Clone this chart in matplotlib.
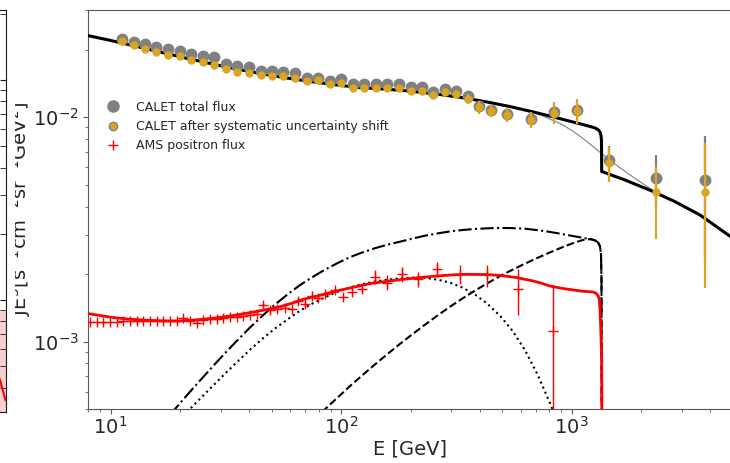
import matplotlib
matplotlib.use('Agg')
import matplotlib.pyplot as plt
from matplotlib.lines import Line2D
from matplotlib.transforms import Bbox, TransformedBbox
from matplotlib.ticker import NullFormatter

# ---------------- data ----------------
calet_E = [11.2, 12.6, 14.1, 15.8, 17.8, 20.0, 22.4, 25.1, 28.2, 31.6, 35.5, 39.8, 44.7,
           50.1, 56.2, 63.1, 70.8, 79.4, 89.1, 100, 112, 126, 141, 158, 178, 200, 224,
           251, 282, 316, 355, 398, 447, 526, 666, 838, 1058, 1456, 2321, 3798]
calet_total = [0.02228, 0.02154, 0.02117, 0.02047, 0.02012, 0.01977, 0.01917, 0.01879,
               0.01848, 0.01730, 0.01690, 0.01668, 0.01611, 0.01611, 0.01590, 0.01569,
               0.01500, 0.01491, 0.01450, 0.01476, 0.01406, 0.01402, 0.01402, 0.01402,
               0.01409, 0.01359, 0.01356, 0.01300, 0.01338, 0.01305, 0.01240, 0.01122,
               0.01077, 0.01031, 0.00980, 0.01059, 0.01077, 0.00646, 0.00536, 0.00523]
calet_total_err = [0.0002, 0.0002, 0.0002, 0.0002, 0.0002, 0.0002, 0.0002, 0.0002, 0.0002,
                   0.0002, 0.0002, 0.0002, 0.0002, 0.0002, 0.0002, 0.0002, 0.0002, 0.0002,
                   0.0002, 0.0002, 0.0002, 0.0002, 0.0002, 0.0002, 0.0002, 0.0002, 0.0002,
                   0.0003, 0.0003, 0.0003, 0.0003, 0.0003, 0.0003, 0.0005, 0.0006, 0.0007,
                   0.0008, 0.0010, 0.0014, 0.0030]
calet_shift = [0.02183, 0.02089, 0.02018, 0.01945, 0.01892, 0.01867, 0.01803, 0.01767,
               0.01713, 0.01634, 0.01594, 0.01578, 0.01542, 0.01526, 0.01518, 0.01500,
               0.01450, 0.01460, 0.01402, 0.01416, 0.01354, 0.01354, 0.01354, 0.01346,
               0.01350, 0.01309, 0.01309, 0.01260, 0.01290, 0.01265, 0.01206, 0.01108,
               0.01067, 0.01024, 0.00973, 0.01048, 0.01070, 0.00625, 0.00462, 0.00464]
calet_shift_err_lo = [0.0004, 0.0004, 0.0004, 0.0004, 0.0004, 0.0004, 0.0004, 0.0004, 0.0004,
                      0.0004, 0.0004, 0.0004, 0.0004, 0.0004, 0.0004, 0.0004, 0.0004, 0.0004,
                      0.0004, 0.0004, 0.0004, 0.0004, 0.0004, 0.0004, 0.0004, 0.0004, 0.0004,
                      0.0005, 0.0005, 0.0005, 0.0006, 0.0007, 0.0007, 0.0007, 0.0008, 0.0012,
                      0.00135, 0.0011, 0.00175, 0.0029]
calet_shift_err_hi = [0.0004, 0.0004, 0.0004, 0.0004, 0.0004, 0.0004, 0.0004, 0.0004, 0.0004,
                      0.0004, 0.0004, 0.0004, 0.0004, 0.0004, 0.0004, 0.0004, 0.0004, 0.0004,
                      0.0004, 0.0004, 0.0004, 0.0004, 0.0004, 0.0004, 0.0004, 0.0004, 0.0004,
                      0.0005, 0.0005, 0.0005, 0.0006, 0.0007, 0.0007, 0.0007, 0.0008, 0.0012,
                      0.00135, 0.0011, 0.0014, 0.0030]

ams_E = [8.13, 8.70, 9.29, 9.93, 10.62, 11.34, 12.12, 12.97, 13.85, 14.81, 15.83, 16.91,
         18.08, 19.33, 20.65, 22.08, 23.61, 25.22, 26.97, 28.84, 30.80, 32.93, 35.20, 37.60,
         40.20, 43.00, 45.92, 49.11, 52.67, 57.04, 60.99, 65.15, 69.66, 74.47, 79.54, 85.05,
         93.99, 102.1, 111.1, 122.7, 140.2, 157.6, 183.0, 216.0, 259.7, 327.6, 427.9, 586.7,
         832.4]
ams_flux = [1.221e-3, 1.221e-3, 1.221e-3, 1.227e-3, 1.227e-3, 1.233e-3, 1.233e-3, 1.240e-3,
            1.240e-3, 1.240e-3, 1.233e-3, 1.233e-3, 1.233e-3, 1.233e-3, 1.278e-3, 1.233e-3,
            1.215e-3, 1.246e-3, 1.259e-3, 1.265e-3, 1.272e-3, 1.285e-3, 1.292e-3, 1.298e-3,
            1.318e-3, 1.332e-3, 1.453e-3, 1.380e-3, 1.394e-3, 1.419e-3, 1.394e-3, 1.518e-3,
            1.478e-3, 1.598e-3, 1.572e-3, 1.626e-3, 1.694e-3, 1.582e-3, 1.671e-3, 1.711e-3,
            1.941e-3, 1.833e-3, 1.995e-3, 1.896e-3, 2.100e-3, 2.005e-3, 1.995e-3, 1.711e-3,
            1.117e-3]
ams_err_lo = [2e-5, 2e-5, 2e-5, 2e-5, 2e-5, 2e-5, 2e-5, 2e-5, 2e-5, 2e-5, 2e-5, 2e-5, 2e-5,
              2e-5, 2e-5, 2e-5, 2e-5, 2e-5, 2e-5, 2e-5, 2e-5, 2e-5, 2e-5, 2e-5, 2e-5, 2e-5,
              4e-5, 4e-5, 4e-5, 4e-5, 4e-5, 4e-5, 4e-5, 4e-5, 4e-5, 4e-5, 4e-5, 4e-5, 4e-5,
              4e-5, 1.4e-4, 1.4e-4, 1.5e-4, 1.5e-4, 1.6e-4, 2.0e-4, 2.4e-4, 3.9e-4, 1.11e-3]
ams_err_hi = [2e-5, 2e-5, 2e-5, 2e-5, 2e-5, 2e-5, 2e-5, 2e-5, 2e-5, 2e-5, 2e-5, 2e-5, 2e-5,
              2e-5, 2e-5, 2e-5, 2e-5, 2e-5, 2e-5, 2e-5, 2e-5, 2e-5, 2e-5, 2e-5, 2e-5, 2e-5,
              4e-5, 4e-5, 4e-5, 4e-5, 4e-5, 4e-5, 4e-5, 4e-5, 4e-5, 4e-5, 4e-5, 4e-5, 4e-5,
              4e-5, 1.4e-4, 1.4e-4, 1.5e-4, 1.5e-4, 1.6e-4, 2.0e-4, 2.0e-4, 3.9e-4, 6.8e-4]

# model curves
total_E = [8.0, 9.93, 12.75, 16.36, 21.00, 26.97, 34.62, 44.44, 57.04, 73.22, 93.99, 120.6,
           154.9, 198.8, 255.3, 327.6, 420.7, 540.0, 693.3, 889.7, 1142.2, 1237.3, 1274.8,
           1307.1, 1326.8, 1340.1, 1346.8, 1349.5, 1702.8, 2186.6, 2807.3, 3603.9, 4862.6,
           5647]
total_flux = [2.3056e-2, 2.1984e-2, 2.0741e-2, 1.9509e-2, 1.8365e-2, 1.7344e-2, 1.6429e-2,
              1.5656e-2, 1.4982e-2, 1.4425e-2, 1.3945e-2, 1.3537e-2, 1.3332e-2, 1.3062e-2,
              1.2706e-2, 1.2259e-2, 1.1731e-2, 1.1146e-2, 1.0503e-2, 9.848e-3, 9.214e-3,
              9.010e-3, 8.909e-3, 8.764e-3, 8.577e-3, 8.301e-3, 7.844e-3, 5.730e-3,
              5.248e-3, 4.727e-3, 4.204e-3, 3.667e-3, 2.949e-3, 2.627e-3]

smooth_E = [8.0, 9.93, 12.75, 16.36, 21.00, 26.97, 34.62, 44.44, 57.04, 73.22, 93.99, 120.6,
            154.9, 198.8, 255.3, 327.6, 420.7, 540.0, 693.3, 779.0, 889.7, 1016.1, 1161.8,
            1326.8, 1456.1, 1620.3, 1850.9, 2115.6, 2321.6, 2807.3, 3603.9, 4862.6, 5647]
smooth_flux = [2.3056e-2, 2.1984e-2, 2.0741e-2, 1.9509e-2, 1.8365e-2, 1.7344e-2, 1.6429e-2,
               1.5656e-2, 1.4982e-2, 1.4425e-2, 1.3945e-2, 1.3537e-2, 1.3332e-2, 1.3062e-2,
               1.2706e-2, 1.2259e-2, 1.1731e-2, 1.1146e-2, 1.0503e-2, 9.939e-3, 9.385e-3,
               8.647e-3, 7.804e-3, 6.977e-3, 6.459e-3, 5.951e-3, 5.401e-3, 4.926e-3,
               4.623e-3, 4.204e-3, 3.667e-3, 2.949e-3, 2.627e-3]

dashdot_E = [18.08, 19.01, 21.53, 24.40, 27.65, 31.33, 35.49, 40.22, 45.57, 51.63, 58.49,
             66.27, 75.08, 85.07, 96.37, 109.2, 123.7, 140.2, 158.8, 179.9, 203.8, 230.9,
             261.7, 296.5, 335.9, 380.6, 431.2, 488.6, 553.6, 627.2, 710.6, 805.1, 912.2,
             1033.5, 1142.2, 1212.7, 1262.1, 1300.5, 1326.8, 1340.1, 1346.8, 1349.5]
dashdot_flux = [4.727e-4, 5.012e-4, 5.808e-4, 6.709e-4, 7.733e-4, 8.890e-4, 1.0155e-3,
                1.1564e-3, 1.3050e-3, 1.4635e-3, 1.6230e-3, 1.7865e-3, 1.9393e-3, 2.0939e-3,
                2.2376e-3, 2.3789e-3, 2.4988e-3, 2.6085e-3, 2.7040e-3, 2.7882e-3, 2.8780e-3,
                2.9648e-3, 3.0354e-3, 3.0981e-3, 3.1429e-3, 3.1785e-3, 3.1981e-3, 3.2112e-3,
                3.2046e-3, 3.1850e-3, 3.1397e-3, 3.0823e-3, 3.0137e-3, 2.9437e-3, 2.8900e-3,
                2.8606e-3, 2.8257e-3, 2.7683e-3, 2.6573e-3, 2.4484e-3, 1.8957e-3, 4.523e-4]

dashed_E = [82.5, 95.9, 109.2, 123.7, 140.2, 158.8, 179.9, 203.8, 230.9, 261.7, 296.5, 335.9,
            380.6, 431.2, 488.6, 553.6, 627.2, 710.6, 805.1, 912.2, 1033.5, 1142.2, 1212.7,
            1262.1, 1300.5, 1326.8, 1340.1, 1346.8, 1349.5]
dashed_flux = [4.860e-4, 5.609e-4, 6.342e-4, 7.097e-4, 7.926e-4, 8.810e-4, 9.777e-4,
               1.0798e-3, 1.1902e-3, 1.3077e-3, 1.4309e-3, 1.5576e-3, 1.6890e-3, 1.8215e-3,
               1.9588e-3, 2.0917e-3, 2.2262e-3, 2.3619e-3, 2.4988e-3, 2.6356e-3, 2.7683e-3,
               2.8546e-3, 2.8606e-3, 2.8257e-3, 2.7683e-3, 2.6573e-3, 2.4484e-3, 1.8957e-3,
               4.523e-4]

dotted_E = [21.43, 24.40, 27.65, 31.33, 35.49, 40.22, 45.57, 51.63, 58.49, 66.27, 75.08,
            85.07, 96.37, 109.2, 123.7, 140.2, 158.8, 179.9, 203.8, 230.9, 261.7, 296.5,
            335.9, 380.6, 431.2, 488.6, 553.6, 627.2, 710.6, 805.1, 837.9]
dotted_flux = [4.860e-4, 5.569e-4, 6.335e-4, 7.200e-4, 8.155e-4, 9.204e-4, 1.0312e-3,
               1.1446e-3, 1.2563e-3, 1.3735e-3, 1.4800e-3, 1.5768e-3, 1.6681e-3, 1.7414e-3,
               1.8049e-3, 1.8535e-3, 1.8899e-3, 1.9152e-3, 1.9290e-3, 1.9251e-3, 1.8899e-3,
               1.8328e-3, 1.7414e-3, 1.6230e-3, 1.4739e-3, 1.3050e-3, 1.1191e-3, 9.177e-4,
               7.149e-4, 5.329e-4, 4.811e-4]

red_E = [7.995, 8.987, 10.26, 12.13, 14.33, 16.86, 19.98, 23.61, 27.87, 32.93, 38.9, 45.80,
         54.26, 60.99, 68.49, 80.92, 95.6, 112.5, 133.3, 157.6, 185.9, 219.7, 259.7, 301.6,
         350.4, 413.6, 488.6, 577.3, 681.5, 741.3, 805.1, 904.9, 1016, 1123, 1241, 1274.8,
         1304.4, 1317.5, 1326.8, 1337.4, 1349.5, 1353.5]
red_flux = [1.3345e-3, 1.3077e-3, 1.2812e-3, 1.2589e-3, 1.2461e-3, 1.2385e-3, 1.2372e-3,
            1.2512e-3, 1.2720e-3, 1.3010e-3, 1.3386e-3, 1.3804e-3, 1.4309e-3, 1.4830e-3,
            1.5447e-3, 1.6092e-3, 1.6821e-3, 1.7467e-3, 1.8142e-3, 1.8573e-3, 1.8957e-3,
            1.9310e-3, 1.9608e-3, 1.9830e-3, 1.9953e-3, 1.9912e-3, 1.9750e-3, 1.9290e-3,
            1.8631e-3, 1.8197e-3, 1.7701e-3, 1.7289e-3, 1.6991e-3, 1.6766e-3, 1.6646e-3,
            1.6426e-3, 1.5977e-3, 1.5447e-3, 1.3945e-3, 1.1365e-3, 8.356e-4, 4.523e-4]

legend_labels = ['CALET total flux', 'CALET after systematic uncertainty shift',
                 'AMS positron flux']

# neighbouring (cropped) panel on the far left
nb_fill_x = [0.90, 1.0]
nb_fill_lo = [0.31, 0.31]
nb_fill_hi = [0.90, 0.90]
nb_line_x = [0.95, 0.982, 1.0]
nb_line_y = [0.56, 0.433, 0.351]

# ---------------- figure ----------------
W, H = 730, 463
fig = plt.figure(figsize=(W / 100, H / 100), dpi=100)

spine_col = '0.35'
text_col = '0.15'

# cropped neighbour panel
nb = fig.add_axes([-300 / W, 1 - 412 / H, 305.5 / W, 402 / H])
nb.set_yscale('log')
nb.set_ylim(0.31, 20.8)
nb.set_xlim(0, 1)
nb.fill_between(nb_fill_x, nb_fill_lo, nb_fill_hi, color='#f6cfcf', lw=0)
nb.plot(nb_line_x, nb_line_y, color='red', lw=1.5)
nb.yaxis.tick_right()
nb.tick_params(axis='y', which='both', direction='in', length=4, labelright=False,
               color='0.1')
nb.tick_params(axis='x', which='both', bottom=False, labelbottom=False)
for s in nb.spines.values():
    s.set_color('0.1')

# main panel
ax = fig.add_axes([88.3 / W, 1 - 409.3 / H, (732 - 88.3) / W, (409.3 - 10) / H])
ax.set_xscale('log')
ax.set_yscale('log')
ax.set_xlim(8, 4960)
ax.set_ylim(5e-4, 0.030)

ax.plot(smooth_E, smooth_flux, color='0.55', lw=0.9, zorder=2)
ax.plot(total_E, total_flux, color='black', lw=2.2, zorder=3)
ax.plot(dashdot_E, dashdot_flux, color='black', lw=1.5, ls='-.', zorder=2)
ax.plot(dashed_E, dashed_flux, color='black', lw=1.5, ls='--', zorder=2)
ax.plot(dotted_E, dotted_flux, color='black', lw=1.5, ls=':', zorder=2)
ax.plot(red_E, red_flux, color='red', lw=2, zorder=3)

ax.errorbar(ams_E, ams_flux, yerr=[ams_err_lo, ams_err_hi], fmt='+', color='red', ms=7,
            mew=1, elinewidth=1, capsize=0, zorder=4)
ax.errorbar(calet_E, calet_total, yerr=calet_total_err, fmt='o', color='gray', ms=7.5,
            elinewidth=1.6, capsize=0, zorder=5)
ax.errorbar(calet_E, calet_shift, yerr=[calet_shift_err_lo, calet_shift_err_hi], fmt='o',
            color='goldenrod', mec='goldenrod', ms=5, elinewidth=1.6, capsize=0, zorder=6)

handles = [Line2D([], [], ls='none', marker='o', ms=8, color='gray'),
           Line2D([], [], ls='none', marker='o', ms=6, mfc='goldenrod', mec='gray', mew=1),
           Line2D([], [], ls='none', marker='+', ms=7, mew=1, color='red')]
ax.legend(handles, legend_labels, loc='upper left', bbox_to_anchor=(0.0117, 0.785),
          frameon=False, fontsize=9, borderaxespad=0, labelcolor=text_col)

for s in ax.spines.values():
    s.set_color(spine_col)
ax.tick_params(axis='both', which='both', colors=spine_col, labelcolor=text_col,
               labelsize=14)
ax.tick_params(axis='x', which='both', pad=1.5)
ax.xaxis.set_minor_formatter(NullFormatter())
ax.yaxis.set_minor_formatter(NullFormatter())
ax.set_xlabel('E [GeV]', fontsize=14, color=text_col, labelpad=1)

yl = fig.text(33 / W, 1 - 209 / H,
              r'JE$^3$[s$^{-1}$cm$^{-2}$sr$^{-1}$GeV$^2$]',
              rotation=90, ha='right', va='center', fontsize=14, color=text_col)
yl.set_clip_box(TransformedBbox(Bbox([[15 / W, 0], [1, 1]]), fig.transFigure))
yl.set_clip_on(True)

fig.savefig('out.png', dpi=100)
